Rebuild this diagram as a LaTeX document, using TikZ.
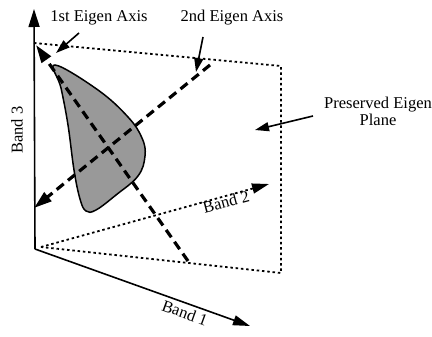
\documentclass[tikz,border=0pt]{standalone}
\usepackage{fontspec}
\setmainfont{Liberation Serif}
\usetikzlibrary{arrows.meta}
\begin{document}
\begin{tikzpicture}[x=1pt,y=-1pt,
  lbl/.style={font=\fontsize{16.5}{17}\selectfont, inner sep=0pt},
  axisline/.style={line width=1.6pt},
  dotline/.style={line width=1.8pt, dash pattern=on 2.5pt off 2.8pt},
  eigline/.style={line width=3.2pt, dash pattern=on 9pt off 5.5pt},
  bigtip/.style={-{Triangle[length=18pt,width=11pt]}},
  midtip/.style={-{Triangle[length=17pt,width=10pt]}},
  pointer/.style={line width=1.6pt, -{Triangle[length=14pt,width=9pt]}}
]
\useasboundingbox (0,0) rectangle (432,337);
% key points
\coordinate (O) at (35,249);
\coordinate (B3) at (34,9);
\coordinate (B1) at (250,326);
\coordinate (B2s) at (41,247);
\coordinate (B2) at (269,184);
\coordinate (PTL) at (34,43);
\coordinate (PTR) at (281,66);
\coordinate (PBR) at (281,273);
\coordinate (E1s) at (188,261);
\coordinate (E1) at (36,45);
\coordinate (E2s) at (210,65);
\coordinate (E2) at (34,208);
% blob
\fill[black!40, draw=black, line width=1.5pt]
  plot[smooth cycle, tension=0.65] coordinates {
  (55,65) (98,90) (128,117) (142,138) (145,156) (138,176) (116,195)
  (96,210) (86,211) (80,199) (74,170) (68,125) (61,88)};
% preserved plane (dotted)
\draw[dotline] (PTL) -- (PTR) -- (PBR) -- (B2s);
% band axes
\draw[axisline, bigtip] (O) -- (B3);
\draw[axisline, midtip] (O) -- (B1);
\draw[dotline, midtip] (B2s) -- (B2);
% eigen axes
\draw[eigline, bigtip] (E1s) -- (E1);
\draw[eigline, bigtip] (E2s) -- (E2);
% labels
\node[lbl] (t1) at (99,18) {1st Eigen Axis};
\node[lbl] (t2) at (232,18) {2nd Eigen Axis};
\node[lbl, align=center] (t3) at (378,111) {Preserved Eigen\\Plane};
\node[lbl, rotate=90] (tb3) at (17,130) {Band 3};
\node[lbl, rotate=-20] (tb1) at (185,313) {Band 1};
\node[lbl, rotate=15] (tb2) at (226,202) {Band 2};
% pointer arrows
\coordinate (p1s) at (79,33);
\coordinate (p1e) at (56,53);
\coordinate (p2s) at (203,37);
\coordinate (p2e) at (196,72);
\coordinate (p3s) at (313,116);
\coordinate (p3e) at (255,130);
\draw[pointer] (p1s) -- (p1e);
\draw[pointer] (p2s) -- (p2e);
\draw[pointer] (p3s) -- (p3e);
\end{tikzpicture}
\end{document}
